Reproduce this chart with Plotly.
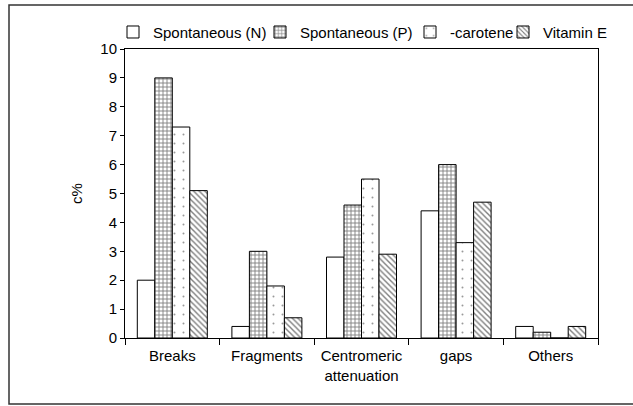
import plotly.graph_objects as go

categories = ["Breaks", "Fragments", "Centromeric<br>attenuation", "gaps", "Others"]
spont_n = [2.0, 0.4, 2.8, 4.4, 0.4]
spont_p = [9.0, 3.0, 4.6, 6.0, 0.2]
beta_carotene = [7.3, 1.8, 5.5, 3.3, 0.0]
vitamin_e = [5.1, 0.7, 2.9, 4.7, 0.4]

series_names = ["Spontaneous (N)", "Spontaneous (P)", "-carotene", "Vitamin E"]
y_ticks = list(range(0, 11))

FONT = "Liberation Sans, Arial, sans-serif"

patterns = [
    dict(shape=""),
    dict(shape="+", size=4, solidity=0.4, fgcolor="black", bgcolor="white"),
    dict(shape=".", size=9, solidity=0.04, fgcolor="#333", bgcolor="white"),
    dict(shape="\\", size=4, solidity=0.35, fgcolor="black", bgcolor="white"),
]
legend_widths = [102, 105, 48, 62]

fig = go.Figure()
for name, vals, pat, lw in zip(series_names, [spont_n, spont_p, beta_carotene, vitamin_e],
                               patterns, legend_widths):
    fig.add_trace(go.Bar(
        x=categories, y=vals, name=name, legendwidth=lw,
        marker=dict(color="white", line=dict(color="black", width=1), pattern=pat),
    ))

fig.update_layout(
    width=633, height=406,
    margin=dict(l=125, r=35, t=49, b=68, autoexpand=False),
    paper_bgcolor="white", plot_bgcolor="white",
    font=dict(family=FONT, size=15, color="black"),
    barmode="group", bargap=0.26, bargroupgap=0,
    showlegend=True,
    legend=dict(orientation="h", x=(113 - 125) / 473, xanchor="left", y=1.058, yanchor="middle",
                font=dict(size=15), bgcolor="rgba(0,0,0,0)", traceorder="normal",
                itemwidth=30, tracegroupgap=0),
    xaxis=dict(type="category", tickson="boundaries", ticks="outside", ticklen=6,
               tickcolor="black", showline=True, linecolor="black", linewidth=1,
               mirror=True, showgrid=False, tickfont=dict(size=15), ticklabelstandoff=4),
    yaxis=dict(range=[0, 10], tickvals=y_ticks, ticks="outside", ticklen=4,
               tickcolor="black", showline=True, linecolor="black", linewidth=1,
               mirror=True, showgrid=False, zeroline=False, tickfont=dict(size=15),
               title=dict(text="c%", standoff=14, font=dict(size=15))),
    shapes=[dict(type="rect", xref="paper", yref="paper",
                 x0=(9 - 125) / 473, x1=(640 - 125) / 473,
                 y0=(338 - 404) / 289, y1=(338 - 5) / 289,
                 line=dict(color="#333", width=1.5), fillcolor="rgba(0,0,0,0)", layer="below")],
)

fig.write_html("out.html", config={"displayModeBar": False},
               post_script="document.body.style.margin='0';")
